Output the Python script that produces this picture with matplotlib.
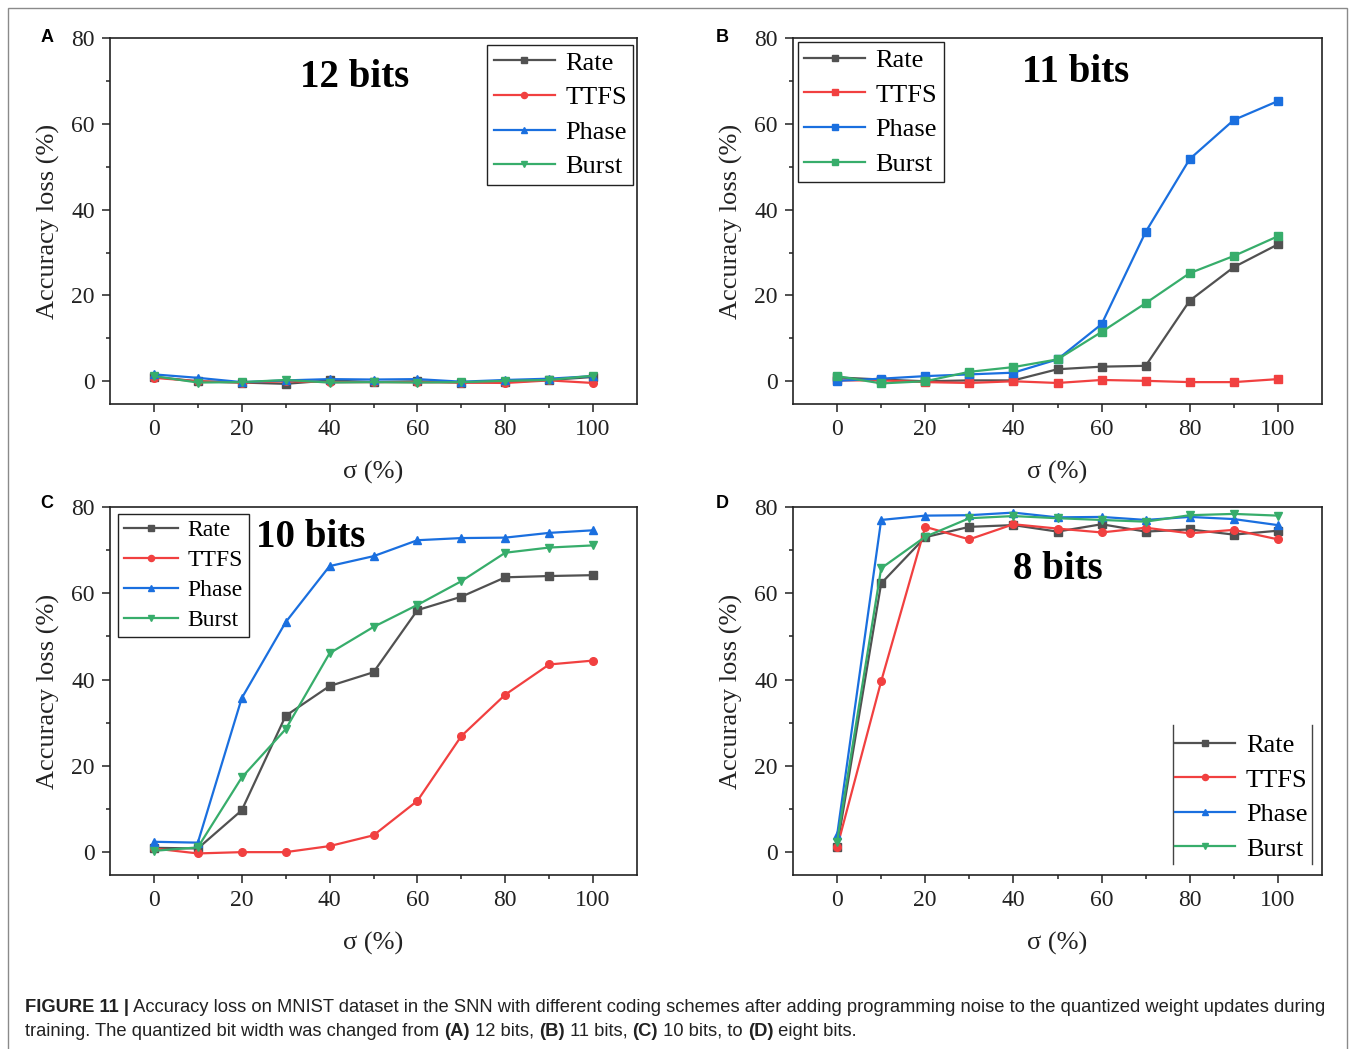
import matplotlib
matplotlib.use("Agg")
import matplotlib.pyplot as plt
from matplotlib.lines import Line2D
from matplotlib.patches import Rectangle

sigma = [0, 10, 20, 30, 40, 50, 60, 70, 80, 90, 100]
series_names = ["Rate", "TTFS", "Phase", "Burst"]

# Panel A: 12 bits
a_rate  = [1.0, 0.0, -0.3, -0.6, 0.2, -0.2, 0.0, -0.3, -0.2, 0.3, 1.0]
a_ttfs  = [0.8, 0.0, -0.3, 0.0, -0.2, -0.2, -0.2, -0.3, -0.4, 0.2, -0.4]
a_phase = [1.6, 0.8, -0.2, 0.2, 0.5, 0.4, 0.5, -0.1, 0.3, 0.6, 1.2]
a_burst = [1.2, -0.3, -0.2, 0.3, -0.3, -0.2, -0.3, -0.2, 0.1, 0.3, 1.3]

# Panel B: 11 bits
b_rate  = [0.9, 0.4, 0.0, 0.2, 0.2, 2.8, 3.4, 3.6, 18.8, 26.6, 31.9]
b_ttfs  = [0.2, 0.2, -0.2, -0.4, 0.0, -0.4, 0.3, 0.1, -0.2, -0.2, 0.5]
b_phase = [0.1, 0.6, 1.2, 1.6, 2.0, 5.1, 13.3, 34.8, 51.8, 60.9, 65.3]
b_burst = [1.2, -0.5, 0.0, 2.2, 3.3, 5.1, 11.5, 18.2, 25.2, 29.2, 33.8]

# Panel C: 10 bits
c_rate  = [1.0, 0.85, 9.7, 31.6, 38.5, 41.7, 56.1, 59.2, 63.7, 64.0, 64.2]
c_ttfs  = [0.85, -0.3, 0.0, 0.0, 1.4, 3.9, 11.9, 26.9, 36.5, 43.5, 44.4]
c_phase = [2.4, 2.2, 35.7, 53.3, 66.3, 68.6, 72.3, 72.8, 72.9, 74.0, 74.6]
c_burst = [0.3, 1.1, 17.3, 28.5, 46.1, 52.2, 57.3, 62.8, 69.4, 70.6, 71.1]

# Panel D: 8 bits
d_rate  = [1.2, 62.3, 73.0, 75.4, 75.8, 74.3, 76.0, 74.3, 74.8, 73.6, 74.5]
d_ttfs  = [1.1, 39.6, 75.4, 72.5, 76.0, 75.0, 74.1, 75.2, 73.9, 74.7, 72.5]
d_phase = [3.9, 77.0, 78.0, 78.1, 78.7, 77.6, 77.7, 77.0, 77.7, 77.2, 75.8]
d_burst = [2.4, 65.8, 73.1, 77.4, 77.9, 77.4, 77.0, 76.6, 78.1, 78.4, 78.0]

panel_letters = ["A", "B", "C", "D"]
panel_titles = ["12 bits", "11 bits", "10 bits", "8 bits"]
xticks = [0, 20, 40, 60, 80, 100]
yticks = [0, 20, 40, 60, 80]

colors = ["#515151", "#F14040", "#1A6FDF", "#37AD6B"]
markers_std = ["s", "o", "^", "v"]
markers_b = ["s", "s", "s", "s"]

SERIF = ["Liberation Serif", "DejaVu Serif"]
plt.rcParams["font.family"] = SERIF

fig = plt.figure(figsize=(13.55, 10.49), dpi=100)
W, H = 1355, 1049

# outer border
fig.patches.append(Rectangle((8 / W, -0.01), (1347 - 8) / W, 1 - 8 / H + 0.01,
                             transform=fig.transFigure, fill=False,
                             edgecolor="#8a8a8a", linewidth=1.0))

def px_axes(l, t, r, b):
    return [l / W, 1 - b / H, (r - l) / W, (b - t) / H]

rects = [px_axes(110, 38, 637, 404), px_axes(793, 38, 1322, 404),
         px_axes(110, 507, 637, 875), px_axes(793, 507, 1322, 875)]

data = [
    [a_rate, a_ttfs, a_phase, a_burst],
    [b_rate, b_ttfs, b_phase, b_burst],
    [c_rate, c_ttfs, c_phase, c_burst],
    [d_rate, d_ttfs, d_phase, d_burst],
]
marker_sets = [markers_std, markers_b, markers_std, markers_std]
title_pos = [(0.465, 0.893), (0.535, 0.905), (0.38, 0.918), (0.50, 0.83)]
letter_pos = [(47, 37), (722, 37), (47, 503), (722, 503)]

axes = []
for i in range(4):
    ax = fig.add_axes(rects[i])
    axes.append(ax)
    for j in range(4):
        ax.plot(sigma, data[i][j], color=colors[j], marker=marker_sets[i][j],
                markersize=5.5, linewidth=1.6, label=series_names[j])
    ax.set_xlim(-10, 110)
    ax.set_ylim(-5.3, 80)
    ax.set_xticks(xticks)
    ax.set_yticks(yticks)
    ax.set_xticks([10, 30, 50, 70, 90], minor=True)
    ax.set_yticks([10, 30, 50, 70], minor=True)
    ax.tick_params(axis="both", which="major", direction="out", length=6, width=1.1,
                   labelsize=17, pad=5, colors="#222222", labelcolor="#222222")
    ax.tick_params(axis="both", which="minor", direction="out", length=3, width=1.1,
                   colors="#222222")
    for sp in ax.spines.values():
        sp.set_linewidth(1.2)
        sp.set_color("#222222")
    ax.set_xlabel("σ (%)", fontsize=19, labelpad=15, color="#222222")
    ax.set_ylabel("Accuracy loss (%)", fontsize=19, labelpad=8, color="#222222")
    ax.text(title_pos[i][0], title_pos[i][1], panel_titles[i], transform=ax.transAxes,
            ha="center", va="center", fontsize=28, fontweight="bold", color="black")
    fig.text(letter_pos[i][0] / W, 1 - letter_pos[i][1] / H, panel_letters[i],
             ha="center", va="center", fontsize=13, fontweight="bold",
             family=["Liberation Sans", "DejaVu Sans"], color="black")

def leg_kw(spacing):
    return dict(handlelength=2.3, handletextpad=0.4, labelspacing=spacing,
                borderpad=0.25, borderaxespad=0.0, fancybox=False, markerscale=0.8)

lg = axes[0].legend(loc="upper right", bbox_to_anchor=(0.993, 0.982), fontsize=19,
                    framealpha=1, **leg_kw(0.42))
lg.get_frame().set_edgecolor("#222222"); lg.get_frame().set_linewidth(1.0)
lg = axes[1].legend(loc="upper left", bbox_to_anchor=(0.009, 0.989), fontsize=19,
                    framealpha=1, **leg_kw(0.42))
lg.get_frame().set_edgecolor("#222222"); lg.get_frame().set_linewidth(1.0)
lg = axes[2].legend(loc="upper left", bbox_to_anchor=(0.015, 0.981), fontsize=17,
                    framealpha=1, **leg_kw(0.35))
lg.get_frame().set_edgecolor("#222222"); lg.get_frame().set_linewidth(1.0)
lg = axes[3].legend(loc="lower right", bbox_to_anchor=(0.985, 0.021), fontsize=19,
                    frameon=False, **leg_kw(0.42))
for xf in (0.718, 0.981):
    axes[3].add_line(Line2D([xf, xf], [0.03, 0.408], transform=axes[3].transAxes,
                            color="#444444", linewidth=1.0))

# caption with mixed bold runs
SANS = ["Liberation Sans", "DejaVu Sans"]
renderer = fig.canvas.get_renderer()

def draw_runs(runs, x0, y0, size):
    x = x0
    for txt, bold in runs:
        t = fig.text(x / W, 1 - y0 / H, txt, ha="left", va="baseline", fontsize=size,
                     fontweight="bold" if bold else "normal", family=SANS, color="#222222")
        bb = t.get_window_extent(renderer=renderer)
        x += bb.width

line1 = [("FIGURE 11 |", True),
         (" Accuracy loss on MNIST dataset in the SNN with different coding schemes after adding programming noise to the quantized weight updates during", False)]
line2 = [("training. The quantized bit width was changed from ", False), ("(A)", True),
         (" 12 bits, ", False), ("(B)", True), (" 11 bits, ", False), ("(C)", True),
         (" 10 bits, to ", False), ("(D)", True), (" eight bits.", False)]
draw_runs(line1, 25, 1012, 13.2)
draw_runs(line2, 25, 1036, 13.2)

fig.savefig("out.png", dpi=100)
